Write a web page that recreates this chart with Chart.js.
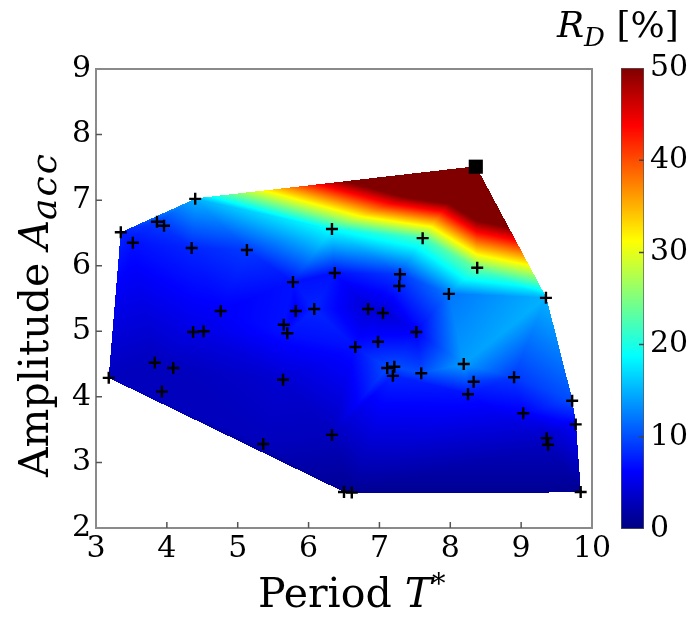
<!DOCTYPE html>
<html>
<head>
<meta charset="utf-8">
<script src="https://cdn.jsdelivr.net/npm/chart.js@4/dist/chart.umd.min.js"></script>
<style>
  body { margin: 0; background: #fff; }
  #wrap { position: relative; width: 692px; height: 618px; overflow: hidden; }
  canvas { position: absolute; top: 0; }
  .lbl { position: absolute; font-family: 'DejaVu Serif', serif; color: #000; white-space: nowrap; line-height: 1; }
  .lbl i { font-style: italic; }
</style>
</head>
<body>
<div id="wrap">
  <canvas id="main" width="692" height="618" style="left:0"></canvas>
  <canvas id="bar" width="92" height="618" style="left:600px"></canvas>
  <div class="lbl" id="xlab" style="left:258px; top:570px; font-size:41px">Period <i>T</i><sup style="font-size:27px; vertical-align:14px">*</sup></div>
  <div class="lbl" id="ylab" style="left:0; top:0; font-size:41px; transform-origin:0 0; transform:translate(14px,477px) rotate(-90deg)">Amplitude <i>A</i><i style="font-size:36px; letter-spacing:2px; position:relative; top:8px">acc</i></div>
  <div class="lbl" id="cblab" style="left:557px; top:7px; font-size:36px"><i>R</i><i style="font-size:26px; position:relative; top:9px">D</i> [%]</div>
</div>
<script>
// measured runs: period T*, amplitude A_acc, resulting R_D (%)
const periodT = [4.40, 3.35, 3.52, 3.86, 3.96, 4.35, 5.13, 6.33, 6.37, 5.78,
                 4.76, 5.82, 6.08, 5.65, 5.70, 4.37, 4.52, 7.61, 8.38, 7.29,
                 7.28, 7.98, 9.35, 6.84, 7.05, 7.52, 6.98, 6.66, 7.11, 7.21,
                 7.19, 7.59, 8.19, 8.33, 8.25, 8.90, 9.72, 9.77, 9.03, 9.36,
                 9.38, 6.33, 6.50, 6.61, 9.84, 3.83, 4.09, 3.18, 3.93, 5.64, 5.36];
const amplitudeA = [7.02, 6.51, 6.35, 6.67, 6.61, 6.27, 6.24, 6.56, 5.89, 5.75,
                    5.31, 5.31, 5.34, 5.10, 4.97, 4.99, 5.00, 6.42, 5.97, 5.87,
                    5.69, 5.57, 5.51, 5.34, 5.28, 4.99, 4.84, 4.76, 4.44, 4.46,
                    4.32, 4.36, 4.50, 4.23, 4.04, 4.30, 3.94, 3.58, 3.75, 3.37,
                    3.27, 3.42, 2.55, 2.54, 2.55, 4.52, 4.44, 4.29, 4.08, 4.26, 3.28];
const rdValues = [15, 8, 7, 9, 9, 8, 9, 19, 7, 7,
                  6, 6, 8, 7, 7, 5, 5, 22, 24, 9,
                  8, 12, 15, 4, 4, 6, 7, 7, 10, 10,
                  8, 10, 14, 9, 7, 9, 10, 6, 6, 3,
                  3, 3, 1, 1, 1, 3, 3, 3, 3, 4, 3];
// the marked run (black square)
const peakT = [8.36];
const peakA = [7.51];
const peakRd = [80];

const xTicks = [3, 4, 5, 6, 7, 8, 9, 10];
const yTicks = [2, 3, 4, 5, 6, 7, 8, 9];
const cbTicks = [0, 10, 20, 30, 40, 50];
const rdMax = 50;

const FONT = 'DejaVu Serif';

function jet(v) {
  const t = Math.min(1, Math.max(0, v / rdMax));
  const c = s => Math.round(255 * Math.min(1, Math.max(0, 1.5 - Math.abs(4 * t - s))));
  return [c(3), c(2), c(1)];
}

// Bowyer-Watson triangulation in data space
function circum(p, a, b, c) {
  const [ax, ay] = p[a], [bx, by] = p[b], [cx, cy] = p[c];
  const d = 2 * (ax * (by - cy) + bx * (cy - ay) + cx * (ay - by));
  const a2 = ax * ax + ay * ay, b2 = bx * bx + by * by, c2 = cx * cx + cy * cy;
  const ux = (a2 * (by - cy) + b2 * (cy - ay) + c2 * (ay - by)) / d;
  const uy = (a2 * (cx - bx) + b2 * (ax - cx) + c2 * (bx - ax)) / d;
  return { ux, uy, r2: (ax - ux) ** 2 + (ay - uy) ** 2 };
}
function triangulate(pts) {
  const p = pts.slice();
  const n = p.length;
  p.push([-1000, -1000], [1000, -1000], [0, 1000]);
  const first = [n, n + 1, n + 2];
  first.c = circum(p, n, n + 1, n + 2);
  let tris = [first];
  for (let i = 0; i < n; i++) {
    const [px, py] = p[i];
    const bad = [], keep = [];
    for (const t of tris) ((px - t.c.ux) ** 2 + (py - t.c.uy) ** 2 < t.c.r2 ? bad : keep).push(t);
    const edges = [];
    for (const t of bad) {
      for (const [u, v] of [[t[0], t[1]], [t[1], t[2]], [t[2], t[0]]]) {
        const k = edges.findIndex(e => (e[0] === u && e[1] === v) || (e[0] === v && e[1] === u));
        if (k >= 0) edges.splice(k, 1); else edges.push([u, v]);
      }
    }
    for (const [u, v] of edges) {
      const t = [u, v, i];
      t.c = circum(p, u, v, i);
      keep.push(t);
    }
    tris = keep;
  }
  return tris.filter(t => t[0] < n && t[1] < n && t[2] < n);
}

const nodeT = periodT.concat(peakT);
const nodeA = amplitudeA.concat(peakA);
const nodeRd = rdValues.concat(peakRd);
const triangles = triangulate(nodeT.map((t, i) => [t, nodeA[i]]));

const surfacePlugin = {
  id: 'surface',
  beforeDatasetsDraw(chart) {
    const { ctx, chartArea: a, scales: { x, y } } = chart;
    const w = Math.round(a.right - a.left), h = Math.round(a.bottom - a.top);
    const off = document.createElement('canvas');
    off.width = w; off.height = h;
    const octx = off.getContext('2d');
    const img = octx.createImageData(w, h);
    const P = nodeT.map((t, i) => [x.getPixelForValue(t) - a.left, y.getPixelForValue(nodeA[i]) - a.top, nodeRd[i]]);
    for (const tri of triangles) {
      const [p0, p1, p2] = tri.map(k => P[k]);
      const det = (p1[1] - p2[1]) * (p0[0] - p2[0]) + (p2[0] - p1[0]) * (p0[1] - p2[1]);
      if (Math.abs(det) < 1e-9) continue;
      const x0 = Math.max(0, Math.floor(Math.min(p0[0], p1[0], p2[0])));
      const x1 = Math.min(w - 1, Math.ceil(Math.max(p0[0], p1[0], p2[0])));
      const y0 = Math.max(0, Math.floor(Math.min(p0[1], p1[1], p2[1])));
      const y1 = Math.min(h - 1, Math.ceil(Math.max(p0[1], p1[1], p2[1])));
      for (let py = y0; py <= y1; py++) {
        for (let px = x0; px <= x1; px++) {
          const cx = px + 0.5, cy = py + 0.5;
          const l0 = ((p1[1] - p2[1]) * (cx - p2[0]) + (p2[0] - p1[0]) * (cy - p2[1])) / det;
          const l1 = ((p2[1] - p0[1]) * (cx - p2[0]) + (p0[0] - p2[0]) * (cy - p2[1])) / det;
          const l2 = 1 - l0 - l1;
          if (l0 < -0.01 || l1 < -0.01 || l2 < -0.01) continue;
          const [r, g, b] = jet(l0 * p0[2] + l1 * p1[2] + l2 * p2[2]);
          const o = (py * w + px) * 4;
          img.data[o] = r; img.data[o + 1] = g; img.data[o + 2] = b; img.data[o + 3] = 255;
        }
      }
    }
    octx.putImageData(img, 0, 0);
    ctx.drawImage(off, a.left, a.top);

    // frame and inward ticks
    ctx.save();
    ctx.strokeStyle = '#8a8a8a';
    ctx.lineWidth = 2;
    ctx.strokeRect(a.left, a.top, a.right - a.left, a.bottom - a.top);
    ctx.strokeStyle = '#555';
    ctx.lineWidth = 1.5;
    ctx.beginPath();
    xTicks.slice(1, -1).forEach(v => {
      const px = x.getPixelForValue(v);
      ctx.moveTo(px, a.bottom); ctx.lineTo(px, a.bottom - 6);
    });
    yTicks.slice(1, -1).forEach(v => {
      const py = y.getPixelForValue(v);
      ctx.moveTo(a.left, py); ctx.lineTo(a.left + 6, py);
    });
    ctx.stroke();
    ctx.restore();
  }
};

new Chart(document.getElementById('main'), {
  type: 'scatter',
  data: {
    datasets: [{
      data: periodT.map((t, i) => ({ x: t, y: amplitudeA[i] })),
      pointStyle: 'cross',
      pointRadius: 6,
      borderColor: '#000',
      borderWidth: 2.4
    }, {
      data: peakT.map((t, i) => ({ x: t, y: peakA[i] })),
      pointStyle: 'rect',
      pointRadius: 10,
      backgroundColor: '#000',
      borderColor: '#000',
      borderWidth: 0
    }]
  },
  options: {
    responsive: false,
    animation: false,
    events: [],
    layout: { padding: { top: 69, right: 100, left: 0, bottom: 0 } },
    plugins: { legend: { display: false }, tooltip: { enabled: false } },
    scales: {
      x: {
        type: 'linear', min: 3, max: 10,
        afterBuildTicks: s => { s.ticks = xTicks.map(v => ({ value: v })); },
        afterFit: s => { s.height = 90; },
        grid: { display: false, drawTicks: false },
        border: { display: false },
        ticks: { color: '#000', padding: 3, maxRotation: 0, font: { family: FONT, size: 30 } }
      },
      y: {
        type: 'linear', min: 2, max: 9,
        afterBuildTicks: s => { s.ticks = yTicks.map(v => ({ value: v })); },
        afterFit: s => { s.width = 96; },
        grid: { display: false, drawTicks: false },
        border: { display: false },
        ticks: { color: '#000', padding: 5, font: { family: FONT, size: 30 } }
      }
    }
  },
  plugins: [surfacePlugin]
});

// colour bar
const cbTickPlugin = {
  id: 'cbTicks',
  afterDatasetsDraw(chart) {
    const { ctx, chartArea: a, scales: { y } } = chart;
    ctx.save();
    ctx.strokeStyle = '#444';
    ctx.lineWidth = 1.5;
    ctx.beginPath();
    cbTicks.slice(1, -1).forEach(v => {
      const py = y.getPixelForValue(v);
      ctx.moveTo(a.right, py); ctx.lineTo(a.right - 5, py);
    });
    ctx.stroke();
    ctx.restore();
  }
};

new Chart(document.getElementById('bar'), {
  type: 'bar',
  data: {
    labels: ['R_D'],
    datasets: [{
      data: [[0, rdMax]],
      barPercentage: 1,
      categoryPercentage: 1,
      borderColor: '#555',
      borderWidth: 1,
      borderSkipped: false,
      backgroundColor: c => {
        const a = c.chart.chartArea;
        if (!a) return '#0000ff';
        const g = c.chart.ctx.createLinearGradient(0, a.bottom, 0, a.top);
        g.addColorStop(0, '#000080');
        g.addColorStop(0.125, '#0000ff');
        g.addColorStop(0.375, '#00ffff');
        g.addColorStop(0.625, '#ffff00');
        g.addColorStop(0.875, '#ff0000');
        g.addColorStop(1, '#800000');
        return g;
      }
    }]
  },
  options: {
    responsive: false,
    animation: false,
    events: [],
    layout: { padding: { top: 68, left: 21, right: 0, bottom: 89 } },
    plugins: { legend: { display: false }, tooltip: { enabled: false } },
    scales: {
      x: { display: false },
      y: {
        position: 'right', min: 0, max: rdMax,
        afterBuildTicks: s => { s.ticks = cbTicks.map(v => ({ value: v })); },
        afterFit: s => { s.width = 48; },
        grid: { display: false, drawTicks: false },
        border: { display: false },
        ticks: { color: '#000', padding: 6, font: { family: FONT, size: 30 } }
      }
    }
  },
  plugins: [cbTickPlugin]
});
</script>
</body>
</html>
